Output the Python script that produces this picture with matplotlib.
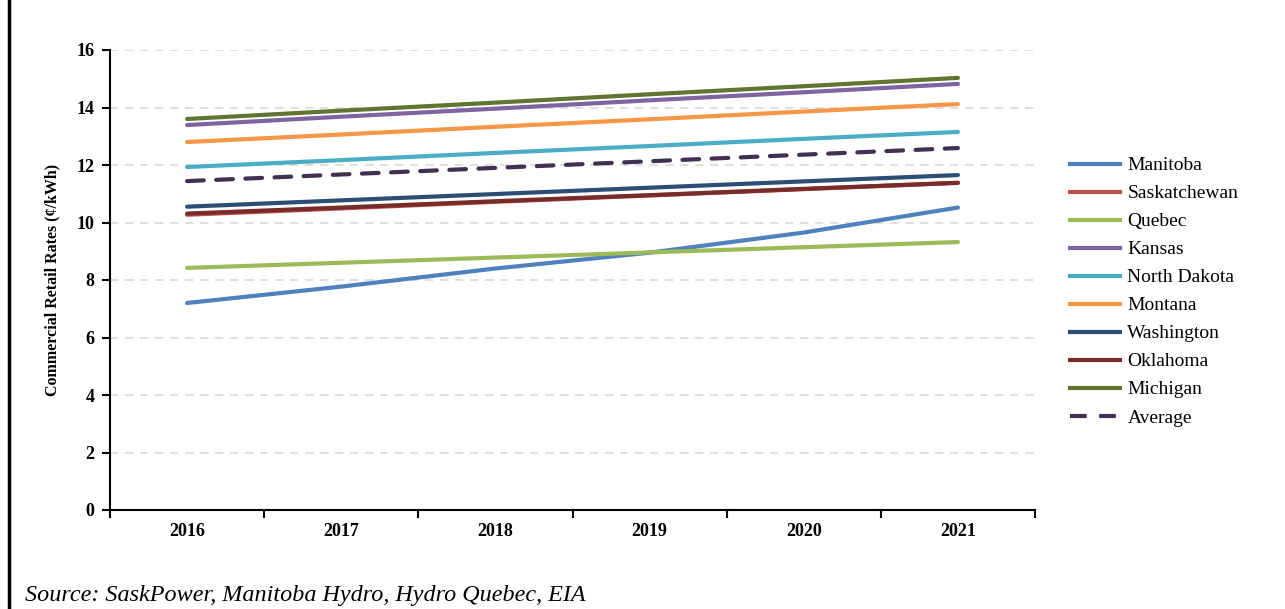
import numpy as np
import matplotlib.pyplot as plt
from matplotlib.lines import Line2D

years = ["2016", "2017", "2018", "2019", "2020", "2021"]

manitoba = [7.20, 7.77, 8.40, 8.95, 9.65, 10.52]
saskatchewan = [10.27, 10.49, 10.72, 10.94, 11.16, 11.38]
quebec = [8.42, 8.60, 8.78, 8.96, 9.14, 9.32]
kansas = [13.39, 13.68, 13.96, 14.25, 14.53, 14.82]
north_dakota = [11.93, 12.17, 12.42, 12.66, 12.91, 13.15]
montana = [12.80, 13.06, 13.33, 13.59, 13.86, 14.12]
washington = [10.55, 10.77, 10.99, 11.21, 11.43, 11.65]
oklahoma = [10.31, 10.52, 10.74, 10.95, 11.17, 11.38]
michigan = [13.60, 13.89, 14.17, 14.46, 14.74, 15.03]
average = [11.44, 11.67, 11.90, 12.13, 12.36, 12.59]

series = [
    ("Manitoba", manitoba, "#4f81bd"),
    ("Saskatchewan", saskatchewan, "#c0504d"),
    ("Quebec", quebec, "#9bbb59"),
    ("Kansas", kansas, "#8064a2"),
    ("North Dakota", north_dakota, "#4bacc6"),
    ("Montana", montana, "#f79646"),
    ("Washington", washington, "#2c4d75"),
    ("Oklahoma", oklahoma, "#772c2a"),
    ("Michigan", michigan, "#5f7530"),
]

serif = ["Liberation Serif", "DejaVu Serif"]
plt.rcParams["font.family"] = serif

fig = plt.figure(figsize=(12.85, 6.09), dpi=100)
ax = fig.add_axes([110 / 1285, 1 - 510 / 609, 925 / 1285, 460 / 609])

x = np.arange(len(years))
handles = []
for name, vals, color in series:
    ax.plot(x, vals, color=color, lw=3, solid_capstyle="round", zorder=3)
    handles.append(Line2D([], [], color=color, lw=3, label=name))
ax.plot(x, average, color="#403152", lw=3, ls=(0, (4, 3)), dash_capstyle="round", zorder=3)
handles.append(Line2D([], [], color="#403152", lw=3, ls=(0, (4, 3)), label="Average"))

ax.set_xlim(-0.5, len(years) - 0.5)
ax.set_ylim(0, 16)
ax.set_yticks(np.arange(0, 17, 2))
ax.set_yticklabels([str(v) for v in range(0, 17, 2)], fontweight="bold", fontsize=13)
ax.set_xticks(x)
ax.set_xticklabels(years, fontweight="bold", fontsize=13)
ax.tick_params(axis="x", length=0, pad=9)
ax.set_xticks(np.arange(-0.5, len(years), 1), minor=True)
ax.tick_params(axis="x", which="minor", length=6, width=1.5, direction="out")
ax.tick_params(axis="y", length=6, width=1.5, direction="out", pad=5)

for v in range(2, 17, 2):
    ax.axhline(v, color="#d9d9d9", lw=1.2, ls=(0, (5, 4)), zorder=1)

for side in ["top", "right"]:
    ax.spines[side].set_visible(False)
for side in ["left", "bottom"]:
    ax.spines[side].set_linewidth(1.5)

ax.set_ylabel("Commercial Retail Rates (¢/kWh)", fontsize=11.5, fontweight="bold", labelpad=12)

fig.legend(handles=handles, loc="upper left", bbox_to_anchor=(1062 / 1285, 1 - 149 / 609),
           frameon=False, fontsize=14, handlelength=2.6, handletextpad=0.36,
           labelspacing=0.535, borderaxespad=0)

fig.text(25 / 1285, 1 - 596 / 609, "Source: SaskPower, Manitoba Hydro, Hydro Quebec, EIA",
         fontsize=17.4, style="italic", va="center", ha="left")

# left frame line along the page edge
fig.add_artist(Line2D([9 / 1285, 9 / 1285], [0, 1], color="black", lw=2.5,
                      transform=fig.transFigure))

fig.savefig("out.png", dpi=100)
